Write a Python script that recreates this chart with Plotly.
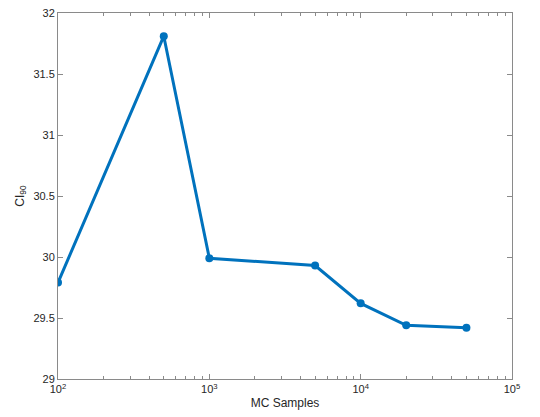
import plotly.graph_objects as go

# Monte Carlo sample counts and the resulting 90% confidence interval width
mc_samples = [100, 500, 1000, 5000, 10000, 20000, 50000]
ci90 = [29.79, 31.81, 29.99, 29.93, 29.62, 29.44, 29.42]

x_tick_vals = [100, 1000, 10000, 100000]
x_tick_text = ["10<sup>2</sup>", "10<sup>3</sup>", "10<sup>4</sup>", "10<sup>5</sup>"]
y_tick_vals = [29, 29.5, 30, 30.5, 31, 31.5, 32]
y_tick_text = ["29", "29.5", "30", "30.5", "31", "31.5", "32"]

line_color = "#0072BD"
axis_color = "#8a8a8a"
text_color = "#262626"

fig = go.Figure(
    go.Scatter(
        x=mc_samples,
        y=ci90,
        mode="lines+markers",
        line=dict(color=line_color, width=3),
        marker=dict(color=line_color, size=8),
        showlegend=False,
    )
)

axis_common = dict(
    showgrid=False,
    zeroline=False,
    showline=True,
    linecolor=axis_color,
    linewidth=1,
    mirror="allticks",
    ticks="inside",
    ticklen=5,
    tickcolor=axis_color,
    tickfont=dict(family="Liberation Sans, Arial, sans-serif", size=11, color=text_color),
)

fig.update_xaxes(
    type="log",
    range=[2, 5],
    tickvals=x_tick_vals,
    ticktext=x_tick_text,
    minor=dict(ticks="inside", ticklen=3, tickcolor=axis_color, dtick="D1", showgrid=False),
    title=dict(text="MC Samples", standoff=4,
               font=dict(family="Liberation Sans, Arial, sans-serif", size=12, color=text_color)),
    **axis_common,
)

fig.update_yaxes(
    range=[29, 32],
    tickvals=y_tick_vals,
    ticktext=y_tick_text,
    title=dict(text="CI<sub>90</sub>", standoff=6,
               font=dict(family="Liberation Sans, Arial, sans-serif", size=12, color=text_color)),
    **axis_common,
)

fig.update_layout(
    width=540,
    height=417,
    margin=dict(l=58, r=28, t=7, b=38),
    paper_bgcolor="white",
    plot_bgcolor="white",
)

fig.write_html("out.html")
